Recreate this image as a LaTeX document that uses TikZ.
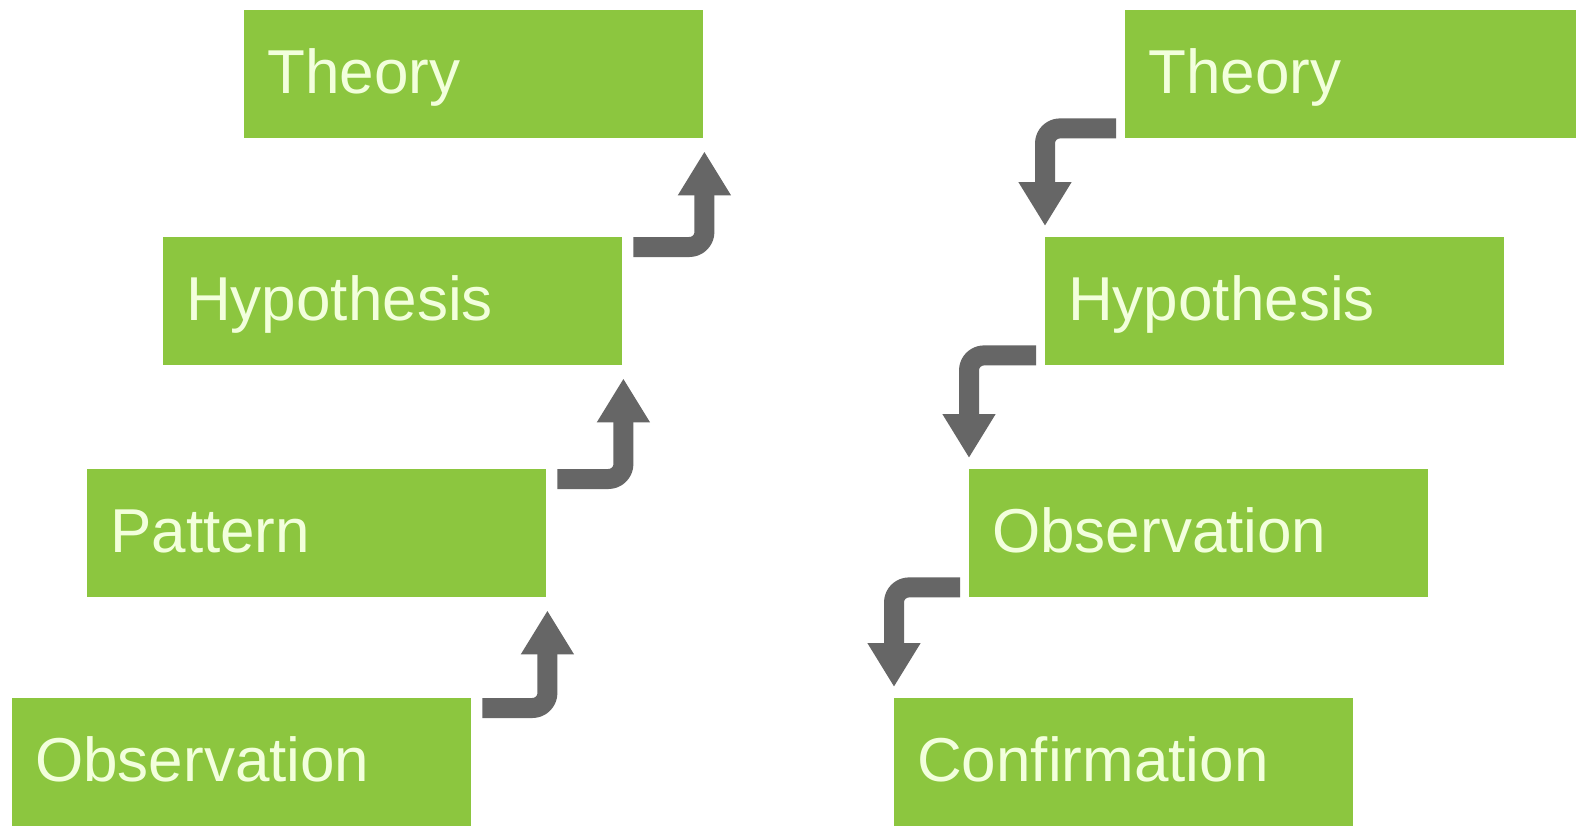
\documentclass[tikz,border=0pt]{standalone}
\usepackage{fontspec}
\setmainfont{Liberation Sans}
\usetikzlibrary{arrows.meta,calc}
\definecolor{boxgreen}{HTML}{8CC63F}
\definecolor{boxtext}{HTML}{F2FFDC}
\definecolor{arrowgray}{HTML}{666666}
\tikzset{
  stage/.style={rectangle, fill=boxgreen, anchor=north west, minimum height=128pt,
    inner xsep=23pt, inner ysep=0pt, text width=413pt, align=left,
    text height=44pt, text depth=6pt, text=boxtext,
    font=\fontsize{62}{62}\selectfont},
  flow/.style={draw=arrowgray, line width=20pt, rounded corners=15pt, line cap=butt,
    line join=round, -{Triangle[width=50pt,length=44pt]}},
}
\begin{document}
\begin{tikzpicture}[x=1pt,y=-1pt]
\useasboundingbox (0,0) rectangle (1576,828);
\fill[white] (0,0) rectangle (1576,828);
% left column
\node[stage] (tL) at (244,10) {Theory};
\node[stage] (hL) at (163,237) {Hypothesis};
\node[stage] (pL) at (87,469) {Pattern};
\node[stage] (oL) at (12,698) {Observation};
% right column
\node[stage, text width=405pt] (tR) at (1125,10) {Theory};
\node[stage] (hR) at (1045,237) {Hypothesis};
\node[stage] (oR) at (969,469) {Observation};
\node[stage] (cR) at (894,698) {Confirmation};
% left arrows (upward)
\draw[flow] ($(oL.north east)+(11,10)$) -| ($(pL.south east)+(1,13)$);
\draw[flow] ($(pL.north east)+(11,10)$) -| ($(hL.south east)+(1,13)$);
\draw[flow] ($(hL.north east)+(11,10)$) -| ($(tL.south east)+(1,13)$);
% right arrows (downward)
\draw[flow] ($(tR.south west)+(-9,-10)$) -| ($(hR.north west)+(0,-11)$);
\draw[flow] ($(hR.south west)+(-9,-10)$) -| ($(oR.north west)+(0,-11)$);
\draw[flow] ($(oR.south west)+(-9,-10)$) -| ($(cR.north west)+(0,-11)$);
\end{tikzpicture}
\end{document}
